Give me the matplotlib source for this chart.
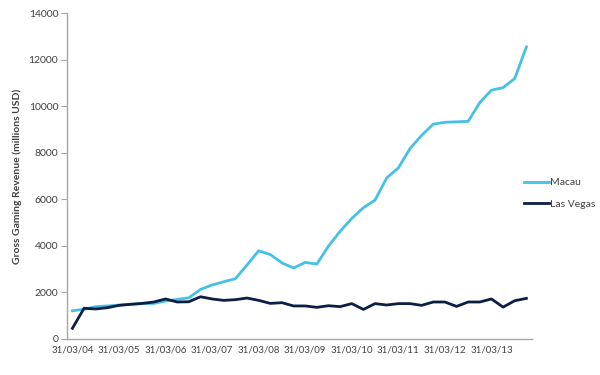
import numpy as np
import matplotlib
matplotlib.use('Agg')
import matplotlib.pyplot as plt

plt.rcParams['font.family'] = ['Lato', 'DejaVu Sans']

# quarterly, Q1 2004 .. Q4 2013
quarters = list(range(40))
tick_labels = ['31/03/04', '31/03/05', '31/03/06', '31/03/07', '31/03/08',
               '31/03/09', '31/03/10', '31/03/11', '31/03/12', '31/03/13']

macau = [1215, 1275, 1390, 1420, 1460, 1490, 1520, 1530, 1630, 1700,
         1770, 2130, 2320, 2460, 2590, 3180, 3790, 3630, 3270, 3050,
         3290, 3220, 3990, 4630, 5180, 5640, 5970, 6920, 7350, 8180,
         8750, 9230, 9310, 9330, 9350, 10160, 10690, 10800, 11190, 12550]

las_vegas = [460, 1320, 1290, 1345, 1445, 1490, 1530, 1590, 1720, 1590,
             1600, 1815, 1720, 1660, 1690, 1760, 1660, 1530, 1560, 1420,
             1420, 1360, 1430, 1390, 1520, 1270, 1520, 1460, 1520, 1520,
             1445, 1590, 1590, 1400, 1590, 1590, 1720, 1370, 1645, 1745]

fig = plt.figure(figsize=(6, 3.75), dpi=100)
ax = fig.add_axes([0.111, 0.096, 0.776, 0.869])

ax.plot(quarters, macau, color='#45C1E6', linewidth=2, label='Macau')
ax.plot(quarters, las_vegas, color='#0B1E46', linewidth=2, label='Las Vegas')

ax.set_xlim(-0.5, 39.5)
ax.set_ylim(0, 14000)
ax.set_yticks(np.arange(0, 14001, 2000))
ax.set_xticks(quarters[::4])
ax.set_xticklabels(tick_labels)

for s in ['top', 'right']:
    ax.spines[s].set_visible(False)
for s in ['left', 'bottom']:
    ax.spines[s].set_color('#A6A6A6')
    ax.spines[s].set_linewidth(1)

ax.tick_params(axis='y', length=4, color='#A6A6A6', labelsize=7.5, labelcolor='#404040', pad=2)
ax.tick_params(axis='x', length=0, labelsize=7, labelcolor='#404040', pad=5)

ax.set_ylabel('Gross Gaming Revenue (millions USD)', fontsize=7.5, fontweight='bold',
              color='#404040', labelpad=5)

ax.legend(loc='center left', bbox_to_anchor=(0.873, 0.484), bbox_transform=fig.transFigure,
          frameon=False, fontsize=7.5, borderpad=0, borderaxespad=0,
          handlelength=2.4, handletextpad=0.15, labelspacing=1.2, labelcolor='#404040')

fig.savefig('out.png', dpi=100)
